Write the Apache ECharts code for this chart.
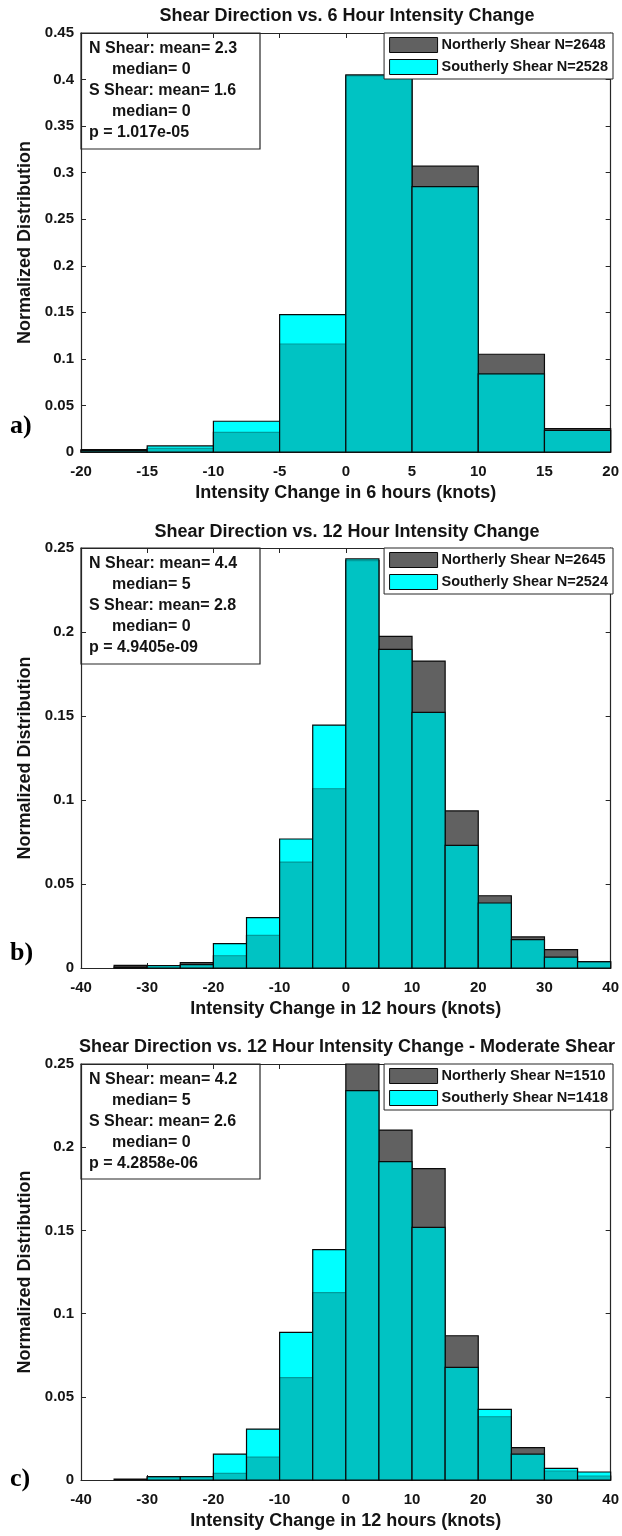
<!DOCTYPE html>
<html>
<head>
<meta charset="utf-8">
<script src="https://cdn.jsdelivr.net/npm/echarts@6/dist/echarts.min.js"></script>
<style>
  html, body { margin: 0; padding: 0; background: #fff; }
  #chart { width: 622px; height: 1536px; }
</style>
</head>
<body>
<div id="chart"></div>
<script>
// ---- data: normalized histograms of intensity change, 5-knot bins ----
const binWidth = 5;

// a) 6-hour change, bins starting at -20
const binsA  = [-20, -15, -10, -5, 0, 5, 10, 15];
const northA = [0.0025, 0.004, 0.021, 0.116, 0.404, 0.307, 0.105, 0.025];
const southA = [0.0015, 0.0065, 0.033, 0.1475, 0.405, 0.285, 0.084, 0.0233];

// b) and c) 12-hour change, bins starting at -40
const binsBC = [-40, -35, -30, -25, -20, -15, -10, -5, 0, 5, 10, 15, 20, 25, 30, 35];
const northB = [0, 0.0016, 0.0012, 0.0032, 0.0073, 0.0194, 0.063, 0.1067, 0.2425, 0.1974, 0.1827, 0.0935, 0.043, 0.0185, 0.0109, 0.0035];
const southB = [0, 0.0005, 0.0015, 0.002, 0.0145, 0.030, 0.0768, 0.1446, 0.2435, 0.1897, 0.1522, 0.073, 0.0387, 0.0169, 0.0065, 0.0038];
const northC = [0, 0.0006, 0.0018, 0.002, 0.004, 0.0138, 0.0615, 0.1126, 0.256, 0.2103, 0.1871, 0.0867, 0.038, 0.0194, 0.0054, 0.0024];
const southC = [0, 0, 0.002, 0.002, 0.0156, 0.0306, 0.0887, 0.1384, 0.234, 0.1913, 0.1518, 0.0677, 0.0425, 0.0156, 0.007, 0.0048];

// text
const titles = [
  'Shear Direction vs. 6 Hour Intensity Change',
  'Shear Direction vs. 12 Hour Intensity Change',
  'Shear Direction vs. 12 Hour Intensity Change - Moderate Shear'
];
const xNames = [
  'Intensity Change in 6 hours (knots)',
  'Intensity Change in 12 hours (knots)',
  'Intensity Change in 12 hours (knots)'
];
const yName = 'Normalized Distribution';
const legendA = ['Northerly Shear N=2648', 'Southerly Shear N=2528'];
const legendB = ['Northerly Shear N=2645', 'Southerly Shear N=2524'];
const legendC = ['Northerly Shear N=1510', 'Southerly Shear N=1418'];
const statsA = ['N Shear: mean= 2.3', 'median= 0', 'S Shear: mean= 1.6', 'median= 0', 'p = 1.017e-05'];
const statsB = ['N Shear: mean= 4.4', 'median= 5', 'S Shear: mean= 2.8', 'median= 0', 'p = 4.9405e-09'];
const statsC = ['N Shear: mean= 4.2', 'median= 5', 'S Shear: mean= 2.6', 'median= 0', 'p = 4.2858e-06'];
const panelTags = ['a)', 'b)', 'c)'];

// axis ranges
const xRangeA = [-20, 20, 5];
const xRangeBC = [-40, 40, 10];
const yRangeA = [0, 0.45, 0.05];
const yRangeBC = [0, 0.25, 0.05];

// ---- styling ----
const GREY = '#616161';
const CYAN = '#00ffff';
const TEAL = '#00c3c3';
const EDGE = '#0a0a0a';
const AXIS = '#262626';
const TXT = '#141414';
const FONT = '"Liberation Sans", Arial, Helvetica, sans-serif';

const panels = [
  { bins: binsA, north: northA, south: southA, legend: legendA, stats: statsA, xr: xRangeA, yr: yRangeA,
    grid: { left: 81, top: 33, width: 532, height: 419 }, titleY: 7, tagY: 426, boxH: 116 },
  { bins: binsBC, north: northB, south: southB, legend: legendB, stats: statsB, xr: xRangeBC, yr: yRangeBC,
    grid: { left: 81, top: 548, width: 532, height: 420 }, titleY: 523, tagY: 953, boxH: 116 },
  { bins: binsBC, north: northC, south: southC, legend: legendC, stats: statsC, xr: xRangeBC, yr: yRangeBC,
    grid: { left: 81, top: 1064, width: 532, height: 416 }, titleY: 1038, tagY: 1479, boxH: 115 }
];

// Northerly bars: grey, black edges, clipped to the plot box
function renderNorth(params, api) {
  const x0 = api.value(0), x1 = api.value(1), n = api.value(2);
  if (!(n > 0)) return;
  const cs = params.coordSys;
  const a = api.coord([x0, n]), b = api.coord([x1, 0]);
  const top = Math.max(a[1], cs.y);
  return {
    type: 'rect',
    shape: { x: a[0], y: top, width: b[0] - a[0], height: b[1] - top },
    style: { fill: GREY, stroke: EDGE, lineWidth: 1.2 }
  };
}

// Southerly bars: translucent cyan over the northerly bars
function renderSouth(params, api) {
  const x0 = api.value(0), x1 = api.value(1), n = api.value(2), s = api.value(3);
  if (!(s > 0)) return;
  const cs = params.coordSys;
  const clampY = (y) => Math.max(y, cs.y);
  const base = api.coord([x0, 0]);
  const right = api.coord([x1, 0])[0];
  const w = right - base[0];
  const lo = Math.min(n, s);
  const children = [];
  if (lo > 0) {
    const yl = clampY(api.coord([x0, lo])[1]);
    children.push({ type: 'rect', shape: { x: base[0], y: yl, width: w, height: base[1] - yl },
      style: { fill: TEAL } });
  }
  if (s > n) {
    const ys = clampY(api.coord([x0, s])[1]);
    const yn = api.coord([x0, n])[1];
    children.push({ type: 'rect', shape: { x: base[0], y: ys, width: w, height: yn - ys },
      style: { fill: CYAN } });
    if (n > 0) {
      children.push({ type: 'line', shape: { x1: base[0], y1: yn, x2: right, y2: yn },
        style: { stroke: '#009c9c', lineWidth: 1.2 } });
    }
  }
  const yTop = clampY(api.coord([x0, s])[1]);
  children.push({ type: 'rect', shape: { x: base[0], y: yTop, width: w, height: base[1] - yTop },
    style: { fill: 'none', stroke: EDGE, lineWidth: 1.2 } });
  return { type: 'group', children };
}

const labelStyle = { color: TXT, fontSize: 15, fontWeight: 'bold', fontFamily: FONT };
const nameStyle = { color: TXT, fontSize: 18, fontWeight: 'bold', fontFamily: FONT };

const grid = [], xAxis = [], yAxis = [], series = [], legend = [], title = [], graphic = [];

panels.forEach((p, i) => {
  grid.push(Object.assign({ containLabel: false }, p.grid));
  const tick = { show: true, inside: true, length: 5, lineStyle: { color: AXIS, width: 1 } };
  const line = { show: true, onZero: false, lineStyle: { color: AXIS, width: 1.2 } };

  xAxis.push({
    gridIndex: i, type: 'value', position: 'bottom',
    min: p.xr[0], max: p.xr[1], interval: p.xr[2],
    axisLine: line, axisTick: tick, splitLine: { show: false },
    axisLabel: Object.assign({ margin: 12 }, labelStyle),
    name: xNames[i], nameLocation: 'middle', nameGap: 32, nameTextStyle: nameStyle
  });
  xAxis.push({
    gridIndex: i, type: 'value', position: 'top',
    min: p.xr[0], max: p.xr[1], interval: p.xr[2],
    axisLine: line, axisTick: tick, splitLine: { show: false }, axisLabel: { show: false }
  });
  yAxis.push({
    gridIndex: i, type: 'value', position: 'left',
    min: p.yr[0], max: p.yr[1], interval: p.yr[2],
    axisLine: line, axisTick: tick, splitLine: { show: false },
    axisLabel: Object.assign({ margin: 7 }, labelStyle),
    name: yName, nameLocation: 'middle', nameGap: 46, nameTextStyle: nameStyle
  });
  yAxis.push({
    gridIndex: i, type: 'value', position: 'right',
    min: p.yr[0], max: p.yr[1], interval: p.yr[2],
    axisLine: line, axisTick: tick, splitLine: { show: false }, axisLabel: { show: false }
  });

  const rows = p.bins.map((b, k) => [b, b + binWidth, p.north[k], p.south[k]]);
  series.push({
    type: 'custom', name: p.legend[0], xAxisIndex: 2 * i, yAxisIndex: 2 * i,
    renderItem: renderNorth, data: rows, encode: { x: [0, 1], y: 2 },
    itemStyle: { color: GREY, borderColor: EDGE, borderWidth: 1 }, silent: true
  });
  series.push({
    type: 'custom', name: p.legend[1], xAxisIndex: 2 * i, yAxisIndex: 2 * i,
    renderItem: renderSouth, data: rows, encode: { x: [0, 1], y: 3 },
    itemStyle: { color: CYAN, borderColor: EDGE, borderWidth: 1 }, silent: true
  });

  legend.push({
    orient: 'vertical', right: 9, top: p.grid.top,
    selectedMode: false, icon: 'rect',
    itemWidth: 48, itemHeight: 15, itemGap: 6,
    padding: [4, 5, 4, 5],
    backgroundColor: '#fff', borderColor: AXIS, borderWidth: 1, borderRadius: 0,
    textStyle: { color: TXT, fontSize: 14.5, fontWeight: 'bold', fontFamily: FONT, padding: [0, 0, 0, -1] },
    data: [
      { name: p.legend[0], itemStyle: { color: GREY, borderColor: EDGE, borderWidth: 1 } },
      { name: p.legend[1], itemStyle: { color: CYAN, borderColor: EDGE, borderWidth: 1 } }
    ]
  });

  title.push({
    text: titles[i], left: p.grid.left + p.grid.width / 2, top: p.titleY, textAlign: 'center', padding: 0,
    textStyle: { color: TXT, fontSize: 18, fontWeight: 'bold', fontFamily: FONT }
  });

  // statistics box in the upper-left corner of the plot
  const boxTexts = p.stats.map((t, k) => ({
    type: 'text', x: (k === 1 || k === 3) ? 112 : 89, y: p.grid.top + 16 + 21 * k,
    style: { text: t, fill: TXT, font: 'bold 16px ' + FONT, verticalAlign: 'middle' }
  }));
  graphic.push({
    type: 'group', z: 100,
    children: [{
      type: 'rect', shape: { x: p.grid.left, y: p.grid.top, width: 179, height: p.boxH },
      style: { fill: '#fff', stroke: AXIS, lineWidth: 1.2 }
    }].concat(boxTexts)
  });

  // panel tag
  graphic.push({
    type: 'text', x: 10, y: p.tagY, z: 100,
    style: { text: panelTags[i], fill: '#000', font: 'bold 26px "Liberation Serif", "Times New Roman", serif', verticalAlign: 'middle' }
  });
});

const chart = echarts.init(document.getElementById('chart'), null, { renderer: 'canvas' });
chart.setOption({
  animation: false,
  backgroundColor: '#fff',
  title, grid, xAxis, yAxis, series, legend, graphic
});
</script>
</body>
</html>
